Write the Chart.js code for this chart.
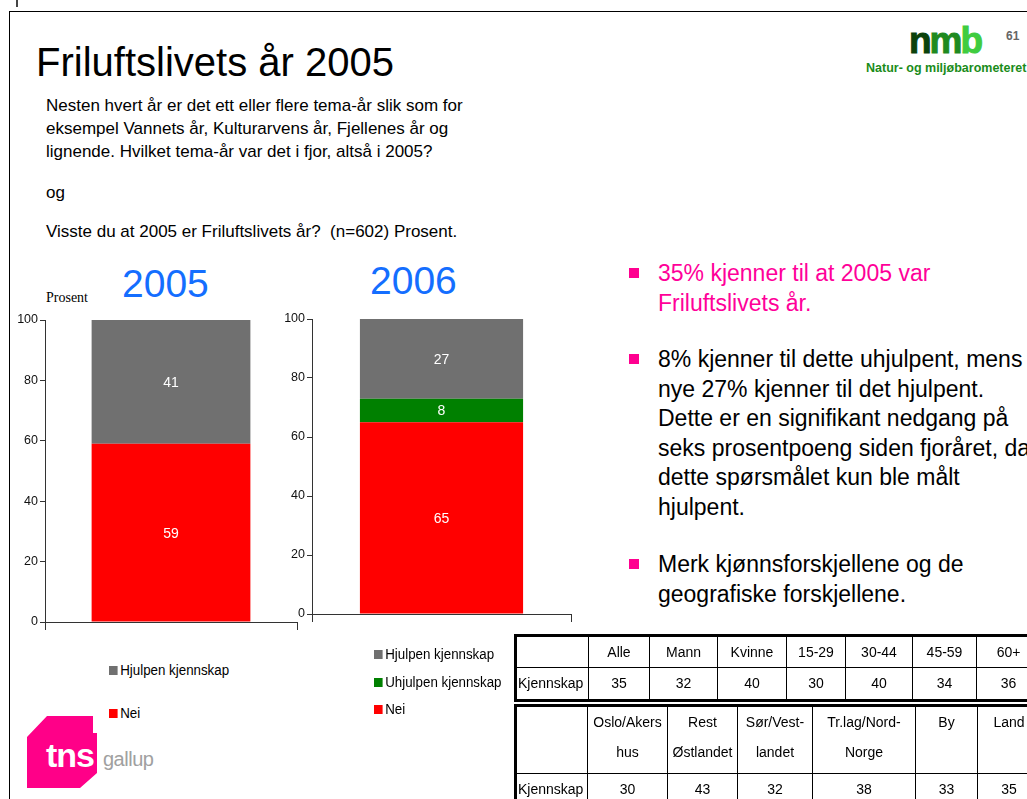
<!DOCTYPE html>
<html>
<head>
<meta charset="utf-8">
<script src="https://cdn.jsdelivr.net/npm/chart.js@4"></script>
<style>
    html, body { margin: 0; padding: 0; }
    body {
        width: 1027px; height: 799px; overflow: hidden; position: relative;
        background: #fff; font-family: "Liberation Sans", Arial, sans-serif; color: #000;
    }
    .abs { position: absolute; }
    .frame-top { left: 10px; top: 11px; width: 1017px; height: 1px; background: #000; }
    .frame-left { left: 9px; top: 11px; width: 1px; height: 788px; background: #000; }
    #title { left: 36px; top: 42px; font-size: 40px; line-height: 40px; white-space: nowrap; }
    .intro { left: 46px; font-size: 17px; line-height: 23px; white-space: nowrap; }
    .year { font-size: 39px; line-height: 39px; color: rgb(20, 110, 255); }
    #prosent { left: 46px; top: 290px; font-family: "Liberation Serif", "Times New Roman", serif; font-size: 14px; }
    canvas { position: absolute; }
    .legend { font-size: 15.5px; white-space: nowrap; transform: scaleX(0.86); transform-origin: left center; }
    .legend .sw { display: inline-block; width: 10px; height: 9px; margin-right: 3px; }
    .bullet { left: 658px; font-size: 23px; line-height: 29.5px; white-space: nowrap; }
    .bsq { width: 10px; height: 10px; background: #ff0090; left: 629px; }
    .cell { position: absolute; display: flex; justify-content: center; text-align: center; font-size: 14px; white-space: nowrap; }
    .vline { position: absolute; width: 1px; background: #000; }
    .hline { position: absolute; height: 1px; background: #000; }
    .tbox { position: absolute; border: 3px solid #000; box-sizing: border-box; }
</style>
</head>
<body>
<div class="abs" style="left:16px;top:0;width:2px;height:7px;background:#444"></div>
<div class="abs frame-top"></div>
<div class="abs frame-left"></div>

<div id="title" class="abs">Friluftslivets år 2005</div>
<div class="abs intro" style="top:94px">Nesten hvert år er det ett eller flere tema-år slik som for<br>eksempel Vannets år, Kulturarvens år, Fjellenes år og<br>lignende. Hvilket tema-år var det i fjor, altså i 2005?</div>
<div class="abs intro" style="top:181px">og</div>
<div class="abs intro" style="top:220px">Visste du at 2005 er Friluftslivets år?&nbsp; (n=602) Prosent.</div>

<!-- nmb logo -->
<div class="abs" style="left:909px;top:22px;font-weight:bold;font-size:37px;line-height:37px;letter-spacing:-2px;-webkit-text-stroke:1px">
    <span style="color:#0b420b">n</span><span style="color:#1f8a1f">m</span><span style="color:#3fcc3f">b</span>
</div>
<div class="abs" style="left:1006px;top:29px;font-weight:bold;font-size:12px;color:#666">61</div>
<div class="abs" style="left:866px;top:61px;font-weight:bold;font-size:12.5px;color:#1a8c1a;white-space:nowrap">Natur- og miljøbarometeret</div>

<div class="abs year" id="year0" style="left:122px;top:264px"></div>
<div class="abs year" id="year1" style="left:370px;top:261px"></div>
<div id="prosent" class="abs">Prosent</div>

<canvas id="chart0" width="310" height="340" style="left:0;top:300px"></canvas>
<canvas id="chart1" width="320" height="335" style="left:262px;top:295px"></canvas>

<div id="legend0"></div>
<div id="legend1"></div>

<!-- bullets -->
<div class="abs bsq" style="top:268px"></div>
<div class="abs bullet" style="top:259px;color:#ff0099">35% kjenner til at 2005 var<br>Friluftslivets år.</div>
<div class="abs bsq" style="top:354px"></div>
<div class="abs bullet" style="top:345px">8% kjenner til dette uhjulpent, mens<br>nye 27% kjenner til det hjulpent.<br>Dette er en signifikant nedgang på<br>seks prosentpoeng siden fjoråret, da<br>dette spørsmålet kun ble målt<br>hjulpent.</div>
<div class="abs bsq" style="top:559px"></div>
<div class="abs bullet" style="top:550px">Merk kjønnsforskjellene og de<br>geografiske forskjellene.</div>

<div id="tables"></div>

<!-- tns gallup logo -->
<div class="abs" style="left:27px;top:716px;width:70px;height:72px;background:#ff0088;clip-path:polygon(20px 0,66px 0,66px 17px,70px 17px,70px 57px,53px 72px,0 72px,0 21px)"></div>
<div class="abs" style="left:46px;top:738px;font-weight:bold;font-size:34px;line-height:34px;color:#fff;letter-spacing:-1px">tns</div>
<div class="abs" style="left:103px;top:749px;font-size:20px;line-height:20px;color:#a0a0a0;letter-spacing:-0.5px">gallup</div>

<script>
const years = ["2005", "2006"];
const neiValues = [59, 65];
const uhjulpenValues = [null, 8];
const hjulpenValues = [41, 27];
const yMax = 100;
const yStep = 20;

const groups1 = ["Alle", "Mann", "Kvinne", "15-29", "30-44", "45-59", "60+"];
const kjennskap1 = [35, 32, 40, 30, 40, 34, 36];
const groups2 = ["Oslo/Akers\nhus", "Rest\nØstlandet", "Sør/Vest-\nlandet", "Tr.lag/Nord-\nNorge", "By", "Land"];
const kjennskap2 = [30, 43, 32, 38, 33, 35];
const rowLabel = "Kjennskap";

const RED = "#ff0000";
const GREEN = "#008000";
const GRAY = "#707070";

// white value labels in the middle of each segment
const barLabels = {
    id: "barLabels",
    afterDatasetsDraw(chart) {
        const ctx = chart.ctx;
        ctx.save();
        ctx.fillStyle = "#fff";
        ctx.font = '14px "Liberation Sans", Arial, sans-serif';
        ctx.textAlign = "center";
        ctx.textBaseline = "middle";
        chart.data.datasets.forEach((ds, i) => {
            chart.getDatasetMeta(i).data.forEach((bar, j) => {
                const v = ds.data[j];
                if (v == null) return;
                const p = bar.getProps(["x", "y", "base"], true);
                ctx.fillText(v, p.x, (p.y + p.base) / 2 + 1);
            });
        });
        ctx.restore();
    }
};

function seriesFor(i) {
    const list = [{ label: "Nei", value: neiValues[i], color: RED }];
    if (uhjulpenValues[i] != null) list.push({ label: "Uhjulpen kjennskap", value: uhjulpenValues[i], color: GREEN });
    list.push({ label: "Hjulpen kjennskap", value: hjulpenValues[i], color: GRAY });
    return list;
}

function buildChart(i, yWidth, xHeight, padding) {
    const datasets = seriesFor(i).map(s => ({
        label: s.label,
        data: [s.value],
        backgroundColor: s.color,
        borderWidth: 0,
        barPercentage: 0.63,
        categoryPercentage: 1
    }));
    return new Chart(document.getElementById("chart" + i), {
        type: "bar",
        data: { labels: [years[i]], datasets: datasets },
        options: {
            responsive: false,
            animation: false,
            layout: { padding: padding },
            plugins: { legend: { display: false }, tooltip: { enabled: false } },
            scales: {
                x: {
                    stacked: true,
                    ticks: { display: false },
                    grid: { offset: true, drawOnChartArea: false, tickLength: 8, color: "#333" },
                    border: { color: "#333" },
                    afterFit: s => { s.height = xHeight; }
                },
                y: {
                    stacked: true,
                    min: 0,
                    max: yMax,
                    ticks: {
                        stepSize: yStep,
                        padding: 2,
                        color: "#111",
                        font: { family: '"Liberation Sans", Arial, sans-serif', size: 12.5 }
                    },
                    grid: { drawOnChartArea: false, tickLength: 5, color: "#333" },
                    border: { color: "#333" },
                    afterFit: s => { s.width = yWidth; }
                }
            }
        },
        plugins: [barLabels]
    });
}

buildChart(0, 45, 18, { top: 20, right: 13, left: 0, bottom: 0 });
buildChart(1, 50, 16, { top: 24, right: 11, left: 0, bottom: 0 });

years.forEach((y, i) => { document.getElementById("year" + i).textContent = y; });

// legends (top to bottom = reverse of stacking order)
function buildLegend(i, left, tops) {
    const holder = document.getElementById("legend" + i);
    seriesFor(i).slice().reverse().forEach((s, k) => {
        const row = document.createElement("div");
        row.className = "abs legend";
        row.style.left = left + "px";
        row.style.top = tops[k] + "px";
        row.innerHTML = `<span class="sw" style="background:${s.color}"></span>${s.label}`;
        holder.appendChild(row);
    });
}
buildLegend(0, 109, [661, 704]);
buildLegend(1, 374, [645, 673, 700]);

// tables
function buildTable(colX, rowY, bottom, headers, values) {
    const holder = document.getElementById("tables");
    const box = document.createElement("div");
    box.className = "tbox";
    box.style.left = (colX[0] - 3) + "px";
    box.style.top = (rowY[0] - 3) + "px";
    box.style.width = (colX[colX.length - 1] - colX[0] + 6) + "px";
    box.style.height = (bottom - rowY[0] + 6) + "px";
    holder.appendChild(box);
    for (let c = 1; c < colX.length - 1; c++) {
        const v = document.createElement("div");
        v.className = "vline";
        v.style.left = colX[c] + "px";
        v.style.top = rowY[0] + "px";
        v.style.height = (bottom - rowY[0]) + "px";
        holder.appendChild(v);
    }
    const h = document.createElement("div");
    h.className = "hline";
    h.style.left = colX[0] + "px";
    h.style.top = rowY[1] + "px";
    h.style.width = (colX[colX.length - 1] - colX[0]) + "px";
    holder.appendChild(h);

    const cells = [[""].concat(headers), [rowLabel].concat(values.map(String))];
    cells.forEach((row, r) => {
        const top = rowY[r];
        const height = (r === 0 ? rowY[1] : bottom) - top;
        row.forEach((txt, c) => {
            const d = document.createElement("div");
            d.className = "cell";
            d.style.left = (colX[c] + 1) + "px";
            d.style.width = (colX[c + 1] - colX[c] - 1) + "px";
            d.style.top = top + "px";
            d.style.height = height + "px";
            if (r === 0) {
                d.style.alignItems = "flex-start";
                d.style.lineHeight = "30px";
            } else {
                d.style.alignItems = "center";
            }
            if (r === 1 && c === 0) d.style.justifyContent = "flex-start";
            d.innerHTML = txt.replace("\n", "<br>");
            holder.appendChild(d);
        });
    });
}
buildTable([517, 588, 649, 717, 786, 845, 912, 976, 1040], [637, 667], 699, groups1, kjennskap1);
buildTable([517, 587, 667, 737, 812, 915, 977, 1040], [707, 773], 805, groups2, kjennskap2);
</script>
</body>
</html>
